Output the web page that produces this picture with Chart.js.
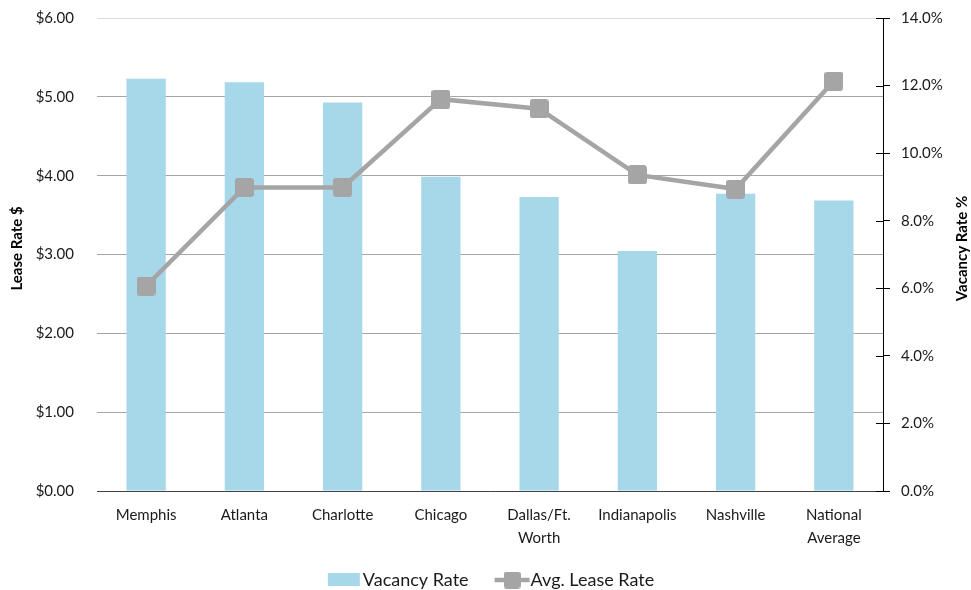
<!DOCTYPE html>
<html>
<head>
<meta charset="utf-8">
<title>Lease Rate and Vacancy Rate by Market</title>
<script src="https://cdn.jsdelivr.net/npm/chart.js@4.4.1/dist/chart.umd.min.js"></script>
<style>
  html, body { margin: 0; padding: 0; background: #ffffff; }
  #wrap { width: 971px; height: 590px; position: relative; }
</style>
</head>
<body>
<div id="wrap"><canvas id="chart" width="971" height="590"></canvas></div>
<script>
// Markets shown along the x axis (multi-line labels are arrays)
const categories = ['Memphis', 'Atlanta', 'Charlotte', 'Chicago', ['Dallas/Ft.', 'Worth'], 'Indianapolis', 'Nashville', ['National', 'Average']];
// Vacancy rate, percent (right axis)
const vacancyRate = [12.2, 12.1, 11.5, 9.3, 8.7, 7.1, 8.8, 8.6];
// Average lease rate, dollars (left axis)
const leaseRate = [2.60, 3.85, 3.85, 4.97, 4.85, 4.01, 3.83, 5.20];
// Tick values for both axes
const leaseTicks = [0, 1, 2, 3, 4, 5, 6];
const vacancyTicks = [0, 2, 4, 6, 8, 10, 12, 14];

const BAR_COLOR = '#a6d8ea';
const LINE_COLOR = '#a5a5a5';
const TEXT_COLOR = '#1a1a1a';
const FONT = 'Lato, "Open Sans", sans-serif';

// Rounded square marker for the lease-rate line
function makeMarker(size, radius) {
  const c = document.createElement('canvas');
  c.width = size; c.height = size;
  const g = c.getContext('2d');
  g.fillStyle = LINE_COLOR;
  g.beginPath();
  g.moveTo(radius, 0);
  g.lineTo(size - radius, 0);
  g.quadraticCurveTo(size, 0, size, radius);
  g.lineTo(size, size - radius);
  g.quadraticCurveTo(size, size, size - radius, size);
  g.lineTo(radius, size);
  g.quadraticCurveTo(0, size, 0, size - radius);
  g.lineTo(0, radius);
  g.quadraticCurveTo(0, 0, radius, 0);
  g.closePath();
  g.fill();
  return c;
}
const marker = makeMarker(19, 3);
const legendMarker = makeMarker(17, 3);

// Axis titles, both reading bottom-to-top
const axisTitles = {
  id: 'axisTitles',
  afterDraw(chart) {
    const ctx = chart.ctx;
    const area = chart.chartArea;
    const cy = (area.top + area.bottom) / 2 - 6;
    ctx.save();
    ctx.fillStyle = '#000';
    ctx.font = 'bold 15px ' + FONT;
    ctx.textAlign = 'center';
    ctx.textBaseline = 'middle';
    [[17, 'Lease Rate $'], [962, 'Vacancy Rate %']].forEach(([x, t]) => {
      ctx.save();
      ctx.translate(x, cy);
      ctx.rotate(-Math.PI / 2);
      ctx.fillText(t, 0, 0);
      ctx.restore();
    });
    ctx.restore();
  }
};

// Inner half of the right-axis tick marks (they cross the axis line)
const crossTicks = {
  id: 'crossTicks',
  afterDraw(chart) {
    const s = chart.scales.y1;
    const ctx = chart.ctx;
    ctx.save();
    ctx.strokeStyle = '#000';
    ctx.lineWidth = 1;
    s.ticks.forEach((t, i) => {
      const y = Math.round(s.getPixelForTick(i)) + 0.5;
      ctx.beginPath();
      ctx.moveTo(s.left - 7, y);
      ctx.lineTo(s.left, y);
      ctx.stroke();
    });
    ctx.restore();
  }
};

// Legend below the axis: bar swatch and line-with-marker icon
const bottomLegend = {
  id: 'bottomLegend',
  afterDraw(chart) {
    const ctx = chart.ctx;
    const area = chart.chartArea;
    const labels = chart.data.datasets.map(d => d.label);
    ctx.save();
    ctx.font = '18px ' + FONT;
    ctx.textBaseline = 'middle';
    ctx.textAlign = 'left';
    ctx.fillStyle = TEXT_COLOR;
    const w1 = ctx.measureText(labels[0]).width;
    const w2 = ctx.measureText(labels[1]).width;
    const total = 32 + 3 + w1 + 26 + 35 + 1 + w2;
    let x = (area.left + area.right) / 2 + 1 - total / 2;
    const y = 580;
    ctx.fillStyle = BAR_COLOR;
    ctx.fillRect(x, y - 7, 32, 13);
    x += 35;
    ctx.fillStyle = TEXT_COLOR;
    ctx.fillText(labels[0], x, y);
    x += w1 + 26;
    ctx.strokeStyle = LINE_COLOR;
    ctx.lineWidth = 4.5;
    ctx.beginPath();
    ctx.moveTo(x, y);
    ctx.lineTo(x + 35, y);
    ctx.stroke();
    ctx.drawImage(legendMarker, x + 17.5 - 8.5, y - 8.5);
    x += 36;
    ctx.fillStyle = TEXT_COLOR;
    ctx.fillText(labels[1], x, y);
    ctx.restore();
  }
};

// Vertical axes: fixed width, no extra top/bottom padding for end labels
function fixVertical(width) {
  return s => {
    s.width = width;
    s.paddingTop = 0;
    s.paddingBottom = 0;
  };
}

new Chart(document.getElementById('chart'), {
  type: 'bar',
  data: {
    labels: categories,
    datasets: [
      {
        type: 'bar',
        label: 'Vacancy Rate',
        data: vacancyRate,
        yAxisID: 'y1',
        backgroundColor: BAR_COLOR,
        categoryPercentage: 1,
        barPercentage: 0.4,
        order: 1
      },
      {
        type: 'line',
        label: 'Avg. Lease Rate',
        data: leaseRate,
        yAxisID: 'y',
        borderColor: LINE_COLOR,
        borderWidth: 4.5,
        pointStyle: marker,
        pointRadius: 10,
        pointHoverRadius: 10,
        tension: 0,
        order: 0
      }
    ]
  },
  options: {
    responsive: false,
    animation: false,
    layout: { padding: { top: 18, left: 0, right: 0, bottom: 0 } },
    plugins: {
      legend: { display: false },
      tooltip: { enabled: false }
    },
    scales: {
      x: {
        grid: { display: false, drawTicks: false },
        border: { display: true, color: '#404040', width: 1 },
        ticks: {
          color: TEXT_COLOR,
          font: { family: FONT, size: 15, lineHeight: 1.5 },
          padding: 13,
          maxRotation: 0,
          autoSkip: false
        },
        afterFit(s) { s.height = 99; }
      },
      y: {
        position: 'left',
        min: 0,
        max: 6,
        afterBuildTicks(s) { s.ticks = leaseTicks.map(v => ({ value: v })); },
        ticks: {
          color: TEXT_COLOR,
          font: { family: FONT, size: 15 },
          padding: 23,
          callback: v => '$' + Number(v).toFixed(2)
        },
        grid: {
          drawTicks: false,
          color: c => c.tick && c.tick.value === 6 ? '#dedede' : '#a6a6a6',
          lineWidth: 1
        },
        border: { display: false },
        afterFit: fixVertical(97)
      },
      y1: {
        position: 'right',
        min: 0,
        max: 14,
        afterBuildTicks(s) { s.ticks = vacancyTicks.map(v => ({ value: v })); },
        ticks: {
          color: TEXT_COLOR,
          font: { family: FONT, size: 15 },
          padding: 11,
          callback: v => Number(v).toFixed(1) + '%'
        },
        grid: {
          drawOnChartArea: false,
          drawTicks: true,
          tickLength: 7,
          color: '#000'
        },
        border: { display: true, color: '#000', width: 1 },
        afterFit: fixVertical(88)
      }
    }
  },
  plugins: [axisTitles, crossTicks, bottomLegend]
});
</script>
</body>
</html>
